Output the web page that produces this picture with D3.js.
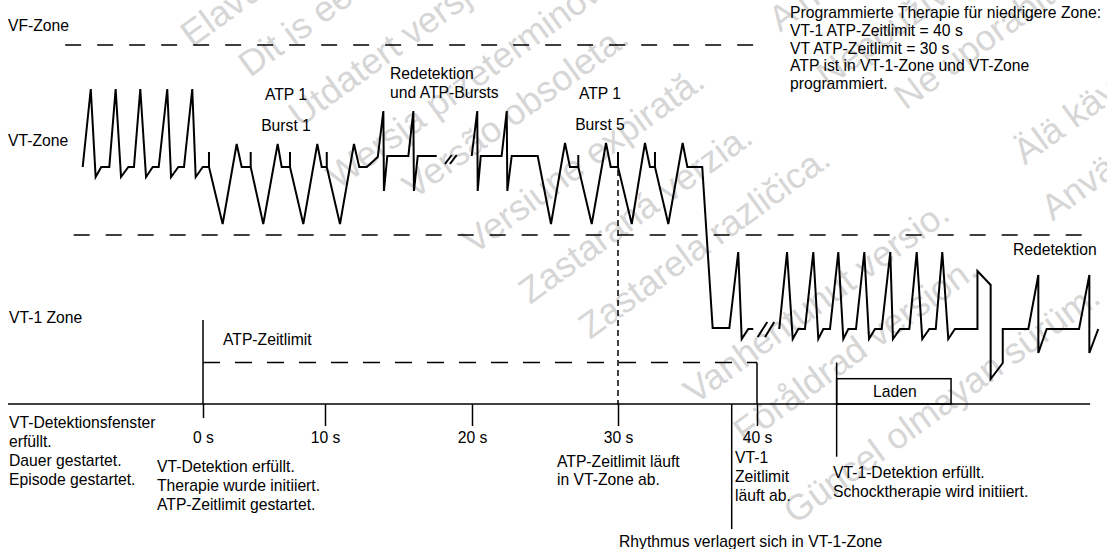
<!DOCTYPE html>
<html>
<head>
<meta charset="utf-8">
<script src="https://cdn.jsdelivr.net/npm/d3@7"></script>
<style>
    body { margin: 0; background: #fff; }
    svg { display: block; font-family: "Liberation Sans", Arial, sans-serif; }
</style>
</head>
<body>
<div id="chart"></div>
<script>
// --- Data (time in s on the schematic axis, signal level in arbitrary units) ---
const tickSeconds = [0, 10, 20, 30, 40];

// VT rhythm, ATP 1 Burst 1, redetection
const vtEpisode = [
    [-9.86, 23.7], [-9.20, 31.5], [-8.80, 22.7], [-8.34, 23.7], [-7.68, 23.7],
    [-7.16, 31.5], [-6.72, 22.7], [-6.12, 23.7], [-5.66, 23.7],
    [-5.14, 31.5], [-4.67, 22.7], [-4.12, 23.7], [-3.63, 23.7],
    [-2.93, 31.5], [-2.62, 22.7], [-2.02, 23.7], [-1.56, 23.7],
    [-0.88, 31.5], [-0.60, 22.7], [-0.02, 23.7], [0.49, 23.7], [0.49, 25.2], [0.49, 23.7],
    [1.61, 18.0], [2.76, 26.0], [3.17, 23.7], [3.91, 23.7], [3.91, 25.2], [3.91, 23.7],
    [4.94, 18.0], [6.12, 26.0], [6.45, 23.7], [7.13, 23.7], [7.13, 25.2], [7.13, 23.7],
    [8.22, 18.0], [9.37, 26.0], [9.73, 23.7], [10.12, 23.7], [10.12, 25.2], [10.12, 23.7],
    [11.02, 18.0], [11.97, 26.0], [12.33, 23.7], [12.84, 23.7],
    [13.59, 24.7], [13.97, 29.3], [14.01, 21.3], [14.24, 24.8], [15.67, 24.8],
    [16.01, 29.3], [16.05, 21.3], [16.31, 24.8], [17.60, 24.8]
];

// redetection, ATP 1 Burst 5, rhythm drops into VT-1 zone
const atpBurst5 = [
    [19.98, 24.8], [20.36, 29.3], [20.39, 21.3], [20.60, 24.8], [22.03, 24.8],
    [22.38, 29.3], [22.42, 21.3], [22.72, 24.8], [24.50, 24.8],
    [25.41, 18.0], [26.37, 26.1], [26.71, 23.7], [27.28, 23.7], [27.28, 24.9], [27.28, 23.7],
    [28.20, 18.0], [29.18, 26.1], [29.50, 23.7], [30.00, 23.7], [30.00, 25.2], [30.00, 23.7],
    [30.99, 18.0], [31.94, 26.1], [32.30, 23.7], [32.66, 23.7], [32.66, 25.2], [32.66, 23.7],
    [33.62, 18.0], [34.65, 26.1], [34.99, 23.7], [36.06, 23.7],
    [36.81, 7.6], [38.01, 7.6], [38.65, 15.2], [38.90, 6.5], [39.37, 7.5], [39.73, 7.5]
];

// VT-1 rhythm, shock, redetection
const vt1Episode = [
    [41.60, 7.5], [42.16, 15.2], [42.57, 6.5], [42.97, 7.5], [43.45, 7.5],
    [44.05, 15.2], [44.41, 6.5], [44.77, 7.5], [45.25, 7.5],
    [45.85, 15.2], [46.21, 6.5], [46.57, 7.5], [47.12, 7.5],
    [47.72, 15.2], [48.06, 6.5], [48.49, 7.5], [48.97, 7.5],
    [49.59, 15.2], [49.78, 6.5], [50.29, 7.5], [50.96, 7.5],
    [51.49, 15.2], [51.89, 6.5], [52.40, 7.5], [52.86, 7.5],
    [53.33, 15.2], [53.76, 6.5], [54.24, 7.5], [55.86, 7.5],
    [55.86, 13.3], [56.81, 11.9], [56.81, 2.5], [57.68, 4.1], [57.68, 7.5],
    [59.52, 7.5], [60.24, 12.9], [60.24, 5.1], [60.84, 7.5],
    [63.17, 7.5], [63.91, 12.9], [63.91, 5.1], [64.55, 7.5]
];

// "//" time-break marks
const breakMarks = [
    [[18.16, 24.0], [18.62, 24.9]], [[18.50, 24.0], [18.96, 24.9]],
    [[40.05, 6.7], [40.74, 8.2]], [[40.58, 6.7], [41.24, 8.2]]
];

// zone boundaries: [level, from s, to s]
const zoneBounds = [[35.9, -11.3, 40.6], [16.9, -10.6, 63.4]];
const zoneNames = ["VF-Zone", "VT-Zone", "VT-1 Zone"];

const atpTimer = { start: 0, end: 40, level: 4.15 };
const vtTimeout = 30;
const rhythmShift = 38.18;
const vt1Detect = 45.73;
const charge = { start: 45.73, end: 53.96, height: 2.53, label: "Laden" };
const axisExtent = [-15.98, 63.96];

const programText = [
    "Programmierte Therapie für niedrigere Zone:",
    "VT-1 ATP-Zeitlimit = 40 s",
    "VT ATP-Zeitlimit = 30 s",
    "ATP ist in VT-1-Zone und VT-Zone",
    "programmiert."
];
const startNote = ["VT-Detektionsfenster", "erfüllt.", "Dauer gestartet.", "Episode gestartet."];
const detectNote = ["VT-Detektion erfüllt.", "Therapie wurde initiiert.", "ATP-Zeitlimit gestartet."];
const vtTimeoutNote = ["ATP-Zeitlimit läuft", "in VT-Zone ab."];
const vt1TimeoutNote = ["VT-1", "Zeitlimit", "läuft ab."];
const shockNote = ["VT-1-Detektion erfüllt.", "Schocktherapie wird initiiert."];
const shiftNote = "Rhythmus verlagert sich in VT-1-Zone";

const watermarkText = [
    ["Elavult verzió.", "Ne használja!"],
    ["Dit is een verouderde versie.", "Niet gebruiken."],
    ["Utdatert versjon.", "Skal ikke brukes."],
    ["Wersja przeterminowana.", "Nie używać."],
    ["Versão obsoleta.", "Não utilize."],
    ["Versiune expirată.", "A nu se utiliza."],
    ["Zastaraná verzia.", "Nepoužívať."],
    ["Zastarela različica.", "Ne uporabite."],
    ["Vanhentunut versio.", "Älä käytä."],
    ["Föråldrad version.", "Använd ej."],
    ["Güncel olmayan sürüm.", "Kullanmayın."]
];

// --- Layout ---
const W = 1107, H = 549;
const axisY = 404;
const axisStops = [203, 325, 472, 618, 757]; // schematic time axis, not linear
const fs = 15.7;
const watermarkAnchors = [
    [192, 48], [250, 78], [300, 128], [338, 190], [414, 200], [474, 255],
    [530, 305], [590, 340], [695, 405], [745, 445], [795, 525]
];

const x = d3.scaleLinear().domain(tickSeconds).range(axisStops);
const y = d3.scaleLinear().domain([0, 36]).range([axisY, 44]);

const svg = d3.select("#chart").append("svg")
    .attr("width", W)
    .attr("height", H)
    .attr("viewBox", [0, 0, W, H]);

// Watermark (sentences set apart with a wide gap)
const wm = svg.append("g")
    .attr("fill", "#d6d6d6")
    .attr("font-size", 36)
    .selectAll("text")
    .data(watermarkText)
    .join("text")
    .attr("transform", (d, i) => `translate(${watermarkAnchors[i][0]},${watermarkAnchors[i][1]}) rotate(-36)`);
wm.append("tspan").text(d => d[0]);
wm.append("tspan").attr("dx", 90).text(d => d[1]);

const line = d3.line().x(d => x(d[0])).y(d => y(d[1]));

// Zone boundaries
svg.append("g")
    .attr("stroke", "#000")
    .attr("stroke-width", 1.5)
    .attr("stroke-dasharray", "16,16")
    .selectAll("line")
    .data(zoneBounds)
    .join("line")
    .attr("x1", d => x(d[1]))
    .attr("x2", d => x(d[2]))
    .attr("y1", d => y(d[0]))
    .attr("y2", d => y(d[0]));

// ECG traces
svg.append("g")
    .attr("fill", "none")
    .attr("stroke", "#000")
    .attr("stroke-width", 2)
    .attr("stroke-linejoin", "miter")
    .selectAll("path")
    .data([vtEpisode, atpBurst5, vt1Episode])
    .join("path")
    .attr("d", line);

svg.append("g")
    .attr("stroke", "#000")
    .attr("stroke-width", 2)
    .selectAll("path")
    .data(breakMarks)
    .join("path")
    .attr("d", line);

// Time axis
const guides = svg.append("g")
    .attr("stroke", "#000")
    .attr("stroke-width", 1.5)
    .attr("fill", "none");

guides.append("line")
    .attr("x1", x(axisExtent[0])).attr("x2", x(axisExtent[1]))
    .attr("y1", y(0)).attr("y2", y(0));

const axis = svg.append("g")
    .attr("transform", `translate(0,${axisY})`)
    .call(d3.axisBottom(x).tickValues(tickSeconds).tickFormat(d => d + " s").tickSize(22).tickPadding(6));
axis.select(".domain").remove();
axis.attr("font-size", fs).attr("font-family", null);
axis.selectAll(".tick line").attr("stroke-width", 1.5).attr("y2", d => d === 0 ? 14 : 22);

// ATP timer start line and dashed timer
guides.append("line")
    .attr("x1", x(atpTimer.start)).attr("x2", x(atpTimer.start))
    .attr("y1", y(8.4)).attr("y2", y(0));
guides.append("line")
    .attr("x1", x(atpTimer.start)).attr("x2", x(atpTimer.end))
    .attr("y1", y(atpTimer.level)).attr("y2", y(atpTimer.level))
    .attr("stroke-dasharray", "17,15");
guides.append("line")
    .attr("x1", x(atpTimer.end)).attr("x2", x(atpTimer.end))
    .attr("y1", y(atpTimer.level)).attr("y2", y(0));

// VT timeout (30 s) dashed marker
guides.append("line")
    .attr("x1", x(vtTimeout)).attr("x2", x(vtTimeout))
    .attr("y1", y(23.4)).attr("y2", y(0))
    .attr("stroke-dasharray", "6,4");

// Rhythm shift marker
guides.append("line")
    .attr("x1", x(rhythmShift)).attr("x2", x(rhythmShift))
    .attr("y1", y(0)).attr("y2", y(-12.5));

// VT-1 detection marker and charge box
guides.append("line")
    .attr("x1", x(vt1Detect)).attr("x2", x(vt1Detect))
    .attr("y1", y(atpTimer.level)).attr("y2", y(-5.27));
guides.append("rect")
    .attr("x", x(charge.start))
    .attr("y", y(charge.height))
    .attr("width", x(charge.end) - x(charge.start))
    .attr("height", y(0) - y(charge.height));

// --- Text ---
const labels = svg.append("g").attr("font-size", fs).attr("fill", "#000");

function block(lines, x0, y0, step, anchor = "start") {
    labels.append("text")
        .attr("text-anchor", anchor)
        .selectAll("tspan")
        .data(lines)
        .join("tspan")
        .attr("x", x0)
        .attr("y", (d, i) => y0 + i * step)
        .text(d => d);
}

block([zoneNames[0]], 8, 31, 0);
block([zoneNames[1]], 8, 146, 0);
block([zoneNames[2]], 9, 323, 0);

block(["ATP 1", "Burst 1"], 286, 100, 31, "middle");
block(["Redetektion", "und ATP-Bursts"], 390, 79, 19);
block(["ATP 1", "Burst 5"], 600, 99, 31, "middle");
block(programText, 790, 18.3, 17.6);
block(["Redetektion"], 1013, 255, 0);
block(["ATP-Zeitlimit"], 223, 345, 0);
block([charge.label], (x(charge.start) + x(charge.end)) / 2 + 1, 397, 0, "middle");

block(startNote, 9, 428.3, 19);
block(detectNote, 157, 472, 19);
block(vtTimeoutNote, 557, 466.7, 18.5);
block(vt1TimeoutNote, 735, 463.3, 18.8);
block(shockNote, 833, 478.3, 18.8);
block([shiftNote], 619, 546.7, 0);
</script>
</body>
</html>
